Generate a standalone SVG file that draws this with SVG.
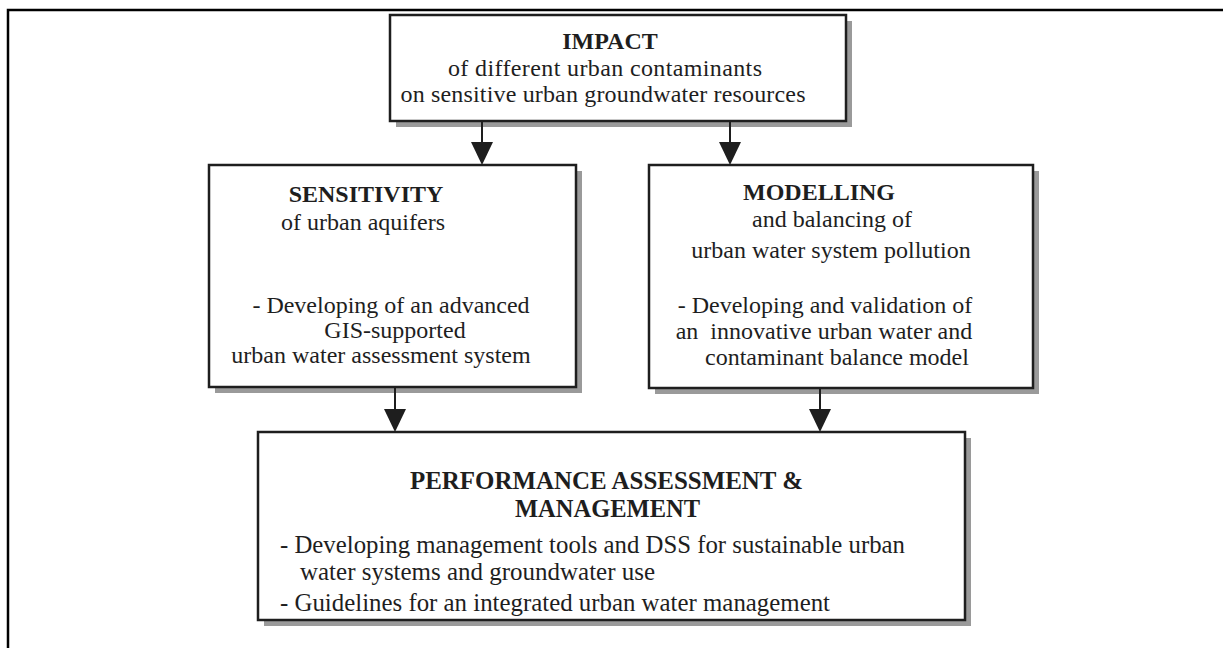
<svg xmlns="http://www.w3.org/2000/svg" width="1223" height="648" viewBox="0 0 1223 648">
<style>
.shadow{fill:#9a9a9a;stroke:none}
.box{fill:#fff;stroke:#1e1e1e;stroke-width:2.5}
text{font-family:"Liberation Serif","Times New Roman",serif;fill:#1e1e1e;font-size:24px}
.b{font-weight:bold}
.c{text-anchor:middle}
.p{font-size:25px}
.line{stroke:#1e1e1e;stroke-width:2;fill:none}
.head{fill:#1e1e1e}
</style>
<rect width="1223" height="648" fill="#fff"/>
<path d="M8,648 V10 H1223" fill="none" stroke="#000" stroke-width="2.5"/>

<g id="impact">
<rect class="shadow" x="396" y="21" width="456" height="106"/>
<rect class="box" x="390" y="15" width="456" height="106"/>
<text class="b c" x="610" y="49">IMPACT</text>
<text class="c" x="605" y="76" textLength="314">of different urban contaminants</text>
<text class="c" x="603" y="102" textLength="405">on sensitive urban groundwater resources</text>
</g>

<g id="sensitivity">
<rect class="shadow" x="215" y="171" width="367" height="222"/>
<rect class="box" x="209" y="165" width="367" height="222"/>
<text class="b c" x="366" y="202">SENSITIVITY</text>
<text class="c" x="363" y="230">of urban aquifers</text>
<text class="c" x="391" y="313">- Developing of an advanced</text>
<text class="c" x="395" y="338">GIS-supported</text>
<text class="c" x="381" y="363">urban water assessment system</text>
</g>

<g id="modelling">
<rect class="shadow" x="655" y="171" width="384" height="223"/>
<rect class="box" x="649" y="165" width="384" height="223"/>
<text class="b c" x="819" y="200">MODELLING</text>
<text class="c" x="832" y="227">and balancing of</text>
<text class="c" x="831" y="258">urban water system pollution</text>
<text class="c" x="825" y="313">- Developing and validation of</text>
<text class="c" x="824" y="339" xml:space="preserve">an  innovative urban water and</text>
<text class="c" x="837" y="365">contaminant balance model</text>
</g>

<g id="performance">
<rect class="shadow" x="264" y="438" width="707" height="188"/>
<rect class="box" x="258" y="432" width="707" height="188"/>
<text class="b p" x="410" y="489" textLength="393" lengthAdjust="spacingAndGlyphs">PERFORMANCE ASSESSMENT &amp;</text>
<text class="b p" x="515" y="517" textLength="185" lengthAdjust="spacingAndGlyphs">MANAGEMENT</text>
<text class="p" x="280" y="553" textLength="625" lengthAdjust="spacingAndGlyphs">- Developing management tools and DSS for sustainable urban</text>
<text class="p" x="300" y="580" textLength="355" lengthAdjust="spacingAndGlyphs">water systems and groundwater use</text>
<text class="p" x="280" y="611" textLength="550" lengthAdjust="spacingAndGlyphs">- Guidelines for an integrated urban water management</text>
</g>

<g id="connectors">
<line class="line" x1="482" y1="121" x2="482" y2="145"/>
<polygon class="head" points="471,142 493,142 482,165"/>
<line class="line" x1="730" y1="121" x2="730" y2="145"/>
<polygon class="head" points="719,142 741,142 730,165"/>
<line class="line" x1="395" y1="387" x2="395" y2="412"/>
<polygon class="head" points="384,409 406,409 395,432"/>
<line class="line" x1="820" y1="388" x2="820" y2="412"/>
<polygon class="head" points="809,409 831,409 820,432"/>
</g>
</svg>
